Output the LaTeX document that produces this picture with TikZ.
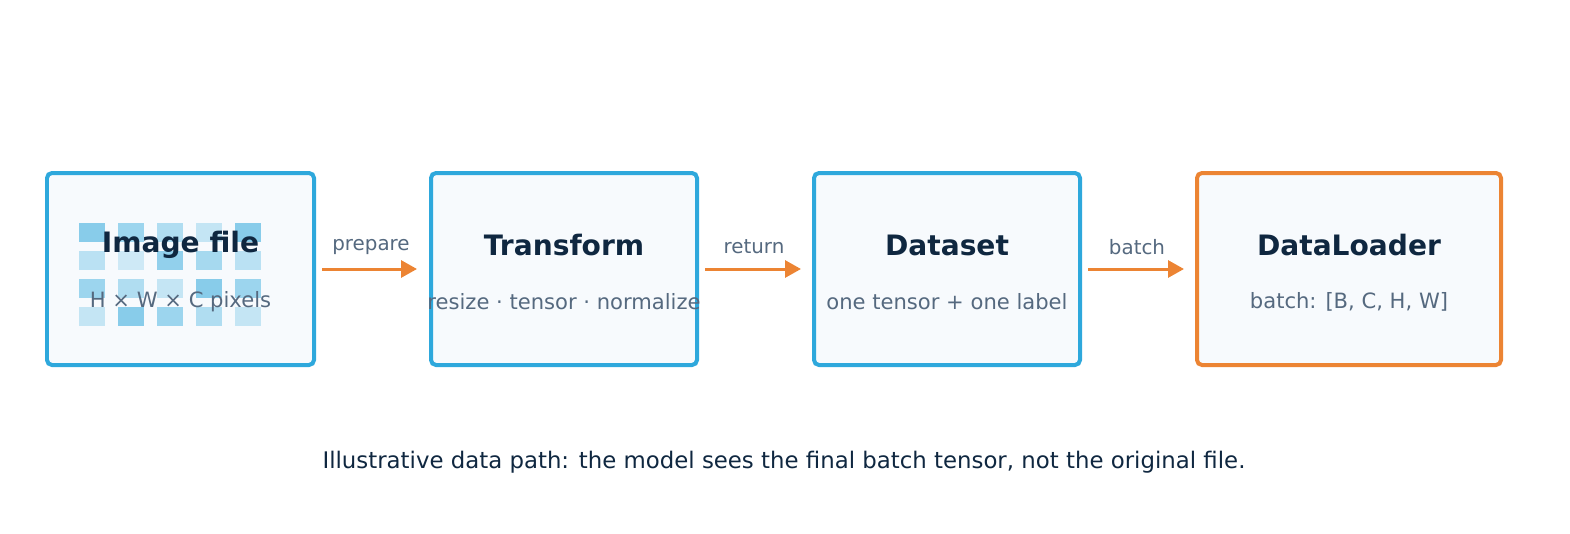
\documentclass[tikz,border=0pt]{standalone}
\usepackage{fontspec}
\setmainfont{DejaVu Sans}
\usetikzlibrary{positioning,arrows.meta}
\definecolor{boxblue}{HTML}{2EA8DC}
\definecolor{boxorange}{HTML}{EC8433}
\definecolor{boxfill}{HTML}{F7FAFD}
\definecolor{titlecol}{HTML}{0F2740}
\definecolor{subcol}{HTML}{55697F}
\tikzset{
  stage/.style={draw=boxblue, line width=0.08cm, fill=boxfill, rounded corners=0.1cm},
  title/.style={font=\fontsize{16}{18}\selectfont\bfseries, text=titlecol},
  sub/.style={font=\fontsize{12}{14}\selectfont, text=subcol},
  flow/.style={draw=boxorange, line width=0.06cm, -{Triangle[length=0.32cm,width=0.34cm]}},
  flowlabel/.style={font=\fontsize{11.3}{13}\selectfont, text=subcol},
}
\begin{document}
\begin{tikzpicture}[x=0.02cm,y=-0.02cm]
   \useasboundingbox (0,0) rectangle (1570,534);

   % stages
   \draw[stage] (47,173) rectangle (314,365);
   \draw[stage] (431,173) rectangle (697,365);
   \draw[stage] (814,173) rectangle (1080,365);
   \draw[stage, draw=boxorange] (1197,173) rectangle (1501,365);

   % pixel grid
   \foreach \c/\r/\o in {0/0/.55,1/0/.45,2/0/.35,3/0/.25,4/0/.55,
                         0/1/.3,1/1/.2,2/1/.5,3/1/.4,4/1/.3,
                         0/2/.45,1/2/.35,2/2/.25,3/2/.55,4/2/.45,
                         0/3/.25,1/3/.55,2/3/.45,3/3/.35,4/3/.25}
      \fill[boxblue, opacity=\o] (79+39*\c,223+28*\r) rectangle ++(26,19);

   \node[title] (imgT) at (180.5,245) {Image file};
   \node[sub]   (imgS) at (180.5,302) {H × W × C pixels};
   \node[title] (trfT) at (564,245) {Transform};
   \node[sub]   (trfS) at (564,302) {resize · tensor · normalize};
   \node[title] (dstT) at (947,245) {Dataset};
   \node[sub]   (dstS) at (947,302) {one tensor + one label};
   \node[title] (ldrT) at (1349,245) {DataLoader};
   \node[sub]   (ldrS) at (1349,302) {batch: [B, C, H, W]};

   % flow
   \coordinate (a0) at (322,269); \coordinate (a1) at (417,269);
   \coordinate (b0) at (705,269); \coordinate (b1) at (801,269);
   \coordinate (c0) at (1088,269); \coordinate (c1) at (1184,269);
   \draw[flow] (a0) -- (a1);
   \draw[flow] (b0) -- (b1);
   \draw[flow] (c0) -- (c1);
   \node[flowlabel] (prep) at (371,247) {prepare};
   \node[flowlabel] (ret)  at (754,247) {return};
   \node[flowlabel] (bat)  at (1137,247) {batch};

   \node[font=\fontsize{13}{15}\selectfont, text=titlecol] (note) at (784,462)
      {Illustrative data path: the model sees the final batch tensor, not the original file.};
\end{tikzpicture}
\end{document}
